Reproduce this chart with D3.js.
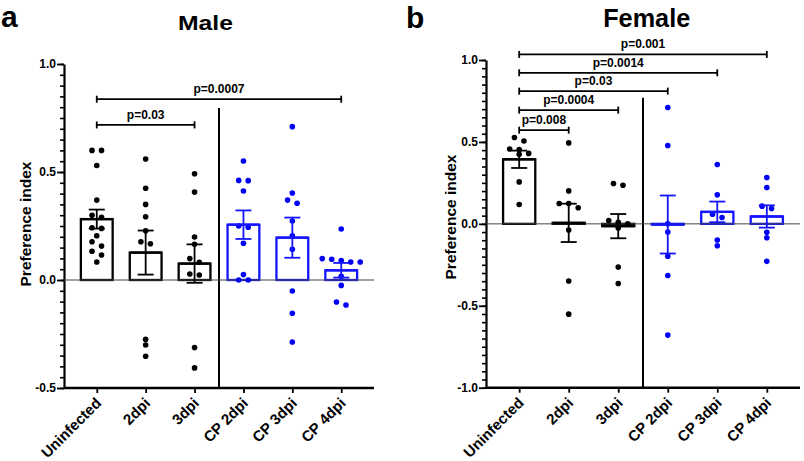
<!DOCTYPE html>
<html><head><meta charset="utf-8">
<script src="https://cdn.jsdelivr.net/npm/d3@7"></script>
<style>body{margin:0;background:#fff;} text{font-family:"Liberation Sans",Arial,sans-serif;font-weight:bold;}</style>
</head><body>
<script>
// ---------------- data ----------------
const categories = ["Uninfected", "2dpi", "3dpi", "CP 2dpi", "CP 3dpi", "CP 4dpi"];
const groupColors = ["black", "black", "black", "blue", "blue", "blue"];

// Male (panel a) individual values
const maleUninfected = [0.60, 0.60, 0.53, 0.37, 0.30, 0.29, 0.242, 0.239, 0.205, 0.177, 0.157, 0.133, 0.116, 0.083];
const male2dpi = [0.56, 0.425, 0.35, 0.293, 0.228, 0.177, 0.168, -0.275, -0.301, -0.353];
const male3dpi = [0.492, 0.407, 0.199, 0.165, 0.099, 0.082, 0.028, 0.023, -0.313, -0.407];
const maleCP2dpi = [0.551, 0.461, 0.46, 0.412, 0.25, 0.244, 0.17, 0.025, 0.0, 0.0];
const maleCP3dpi = [0.71, 0.403, 0.37, 0.355, 0.273, 0.205, 0.142, -0.051, -0.154, -0.287];
const maleCP4dpi = [0.236, 0.099, 0.096, 0.09, 0.083, 0.083, 0.017, -0.025, -0.102, -0.116];
const maleMeans = [0.282, 0.127, 0.076, 0.256, 0.196, 0.045];
const maleSEM = [0.044, 0.102, 0.089, 0.066, 0.093, 0.034];
const maleBrackets = [
  {label: "p=0.0007", from: "Uninfected", to: "CP 4dpi", level: 0.837},
  {label: "p=0.03", from: "Uninfected", to: "3dpi", level: 0.718}
];

// Female (panel b) individual values
const femaleUninfected = [0.527, 0.506, 0.457, 0.454, 0.43, 0.425, 0.256, 0.118];
const female2dpi = [0.494, 0.201, 0.124, 0.124, 0.098, -0.038, -0.349, -0.551];
const female3dpi = [0.246, 0.236, 0.02, 0.01, 0.0, -0.025, -0.264, -0.364];
const femaleCP2dpi = [0.71, 0.478, 0.0, -0.05, -0.197, -0.315, -0.679];
const femaleCP3dpi = [0.362, 0.177, 0.059, 0.039, -0.099, -0.134];
const femaleCP4dpi = [0.283, 0.222, 0.108, 0.094, -0.052, -0.085, -0.229];
const femaleMeans = [0.394, 0.006, -0.014, -0.004, 0.073, 0.045];
const femaleSEM = [0.053, 0.117, 0.074, 0.177, 0.063, 0.068];
const femaleBrackets = [
  {label: "p=0.001", from: "Uninfected", to: "CP 4dpi", level: 1.034},
  {label: "p=0.0014", from: "Uninfected", to: "CP 3dpi", level: 0.922},
  {label: "p=0.03", from: "Uninfected", to: "CP 2dpi", level: 0.81},
  {label: "p=0.0004", from: "Uninfected", to: "3dpi", level: 0.694},
  {label: "p=0.008", from: "Uninfected", to: "2dpi", level: 0.572}
];

const maleYTicks = [-0.5, 0.0, 0.5, 1.0];
const femaleYTicks = [-1.0, -0.5, 0.0, 0.5, 1.0];
const yLabel = "Preference index";

// ---------------- drawing ----------------
const BLUE = "#1414ff";
const svg = d3.select("body").append("svg").attr("width", 804).attr("height", 461);

function colorOf(i) { return groupColors[i] === "blue" ? BLUE : "#000"; }

function swarm(values, y, spacing, thr) {
  const sorted = values.map(v => v).sort((a, b) => b - a);
  const rows = [];
  sorted.forEach(v => {
    const py = y(v);
    const last = rows[rows.length - 1];
    if (last && Math.abs(py - last.y0) < thr) last.pts.push(v);
    else rows.push({y0: py, pts: [v]});
  });
  const out = [];
  rows.forEach(r => {
    const n = r.pts.length;
    r.pts.forEach((v, i) => out.push({v, dx: (i - (n - 1) / 2) * spacing}));
  });
  return out;
}

function drawPanel(cfg) {
  const g = svg.append("g");
  const x = d3.scalePoint().domain(categories).range([cfg.x0, cfg.x1]).padding(0.67);
  const y = d3.scaleLinear().domain(cfg.domain).range([cfg.yBottom, cfg.yTop]);
  const step = x.step();
  const bw = step * 0.65;

  // panel letter and title
  g.append("text").attr("x", cfg.letterX).attr("y", cfg.letterY).attr("font-size", 30).text(cfg.letter);
  g.append("text").attr("x", cfg.titleX).attr("y", cfg.titleY).attr("text-anchor", "middle")
    .attr("font-size", cfg.titleSize).attr("textLength", cfg.titleLen).attr("lengthAdjust", "spacingAndGlyphs").text(cfg.title);

  // y axis minor ticks
  const minor = d3.range(Math.round(cfg.domain[0] * 20), Math.round(cfg.domain[1] * 20) + 1).map(d => d / 20);
  const yMinor = g.append("g").attr("transform", `translate(${cfg.x0},0)`)
    .call(d3.axisLeft(y).tickValues(minor).tickSize(4).tickSizeOuter(0).tickFormat(""));
  yMinor.selectAll("line").attr("stroke-width", 1.6);
  yMinor.select(".domain").attr("stroke-width", 2.2);
  const yMajor = g.append("g").attr("transform", `translate(${cfg.x0},0)`)
    .call(d3.axisLeft(y).tickValues(cfg.yTicks).tickSize(7).tickSizeOuter(0).tickPadding(1).tickFormat(d => d.toFixed(1)));
  yMajor.select(".domain").remove();
  yMajor.selectAll("line").attr("stroke-width", 1.8);
  yMajor.selectAll("text").attr("font-size", 12).attr("font-family", "Liberation Sans, Arial, sans-serif").attr("font-weight", "bold");

  // y label
  g.append("text").attr("transform", `translate(${cfg.yLabelX},${cfg.yLabelY}) rotate(-90)`)
    .attr("text-anchor", "middle").attr("font-size", 15.5).text(yLabel);

  // x axis
  const xAx = g.append("g").attr("transform", `translate(0,${cfg.yBottom})`)
    .call(d3.axisBottom(x).tickSize(5).tickSizeOuter(0));
  xAx.select(".domain").attr("stroke-width", 2.4).attr("d", `M${cfg.x0},0H${cfg.x1}`);
  xAx.selectAll("line").attr("stroke-width", 1.8);
  xAx.selectAll("text").attr("font-size", 15).attr("font-family", "Liberation Sans, Arial, sans-serif")
    .attr("font-weight", "bold").attr("text-anchor", "end").attr("dy", null)
    .attr("transform", "translate(5,16) rotate(-45)").attr("y", 0).attr("x", 0);

  // divider
  const divX = (x("3dpi") + x("CP 2dpi")) / 2;
  g.append("line").attr("x1", divX).attr("x2", divX).attr("y1", y(cfg.dividerTop)).attr("y2", cfg.yBottom)
    .attr("stroke", "#000").attr("stroke-width", 2);

  // bars
  categories.forEach((c, i) => {
    const m = cfg.means[i];
    g.append("rect").attr("x", x(c) - bw / 2).attr("width", bw)
      .attr("y", y(Math.max(0, m))).attr("height", Math.max(Math.abs(y(m) - y(0)), 0.5))
      .attr("fill", "#fff").attr("stroke", colorOf(i)).attr("stroke-width", 2.3);
  });

  // zero line
  g.append("line").attr("x1", cfg.x0).attr("x2", cfg.x1).attr("y1", y(0)).attr("y2", y(0))
    .attr("stroke", "#444").attr("stroke-width", 1);

  // dots
  cfg.values.forEach((vals, i) => {
    const pts = swarm(vals, y, 9.5, 5);
    g.selectAll(null).data(pts).enter().append("circle")
      .attr("cx", d => x(categories[i]) + d.dx).attr("cy", d => y(d.v)).attr("r", 2.8)
      .attr("fill", colorOf(i) === "#000" ? "#000" : "#0000f5");
  });

  // error bars
  categories.forEach((c, i) => {
    const m = cfg.means[i], s = cfg.sem[i], cx = x(c), col = colorOf(i);
    const eg = g.append("g").attr("stroke", col).attr("stroke-width", 1.8);
    eg.append("line").attr("x1", cx).attr("x2", cx).attr("y1", y(m - s)).attr("y2", y(m + s));
    [m - s, m + s].forEach(v => eg.append("line").attr("x1", cx - 8).attr("x2", cx + 8).attr("y1", y(v)).attr("y2", y(v)));
    eg.append("line").attr("x1", cx - bw / 2).attr("x2", cx + bw / 2).attr("y1", y(m)).attr("y2", y(m)).attr("stroke-width", 2.3);
  });

  // significance brackets
  cfg.brackets.forEach(b => {
    const x1 = x(b.from), x2 = x(b.to), yy = y(b.level);
    const bg = g.append("g").attr("stroke", "#000").attr("stroke-width", 1.8);
    bg.append("line").attr("x1", x1).attr("x2", x2).attr("y1", yy).attr("y2", yy);
    bg.append("line").attr("x1", x1).attr("x2", x1).attr("y1", yy - 3.5).attr("y2", yy + 3.5);
    bg.append("line").attr("x1", x2).attr("x2", x2).attr("y1", yy - 3.5).attr("y2", yy + 3.5);
    g.append("text").attr("x", (x1 + x2) / 2).attr("y", yy - 6).attr("text-anchor", "middle")
      .attr("font-size", 12).text(b.label);
  });
}

drawPanel({
  x0: 64, x1: 374, yTop: 64, yBottom: 388, domain: [-0.5, 1.0], yTicks: maleYTicks,
  values: [maleUninfected, male2dpi, male3dpi, maleCP2dpi, maleCP3dpi, maleCP4dpi],
  means: maleMeans, sem: maleSEM, brackets: maleBrackets, dividerTop: 0.796,
  letter: "a", letterX: 1, letterY: 26.5, title: "Male", titleX: 205.5, titleY: 29.5, titleSize: 21, titleLen: 55,
  yLabelX: 31, yLabelY: 224
});
drawPanel({
  x0: 486, x1: 800, yTop: 60, yBottom: 387.7, domain: [-1.0, 1.0], yTicks: femaleYTicks,
  values: [femaleUninfected, female2dpi, female3dpi, femaleCP2dpi, femaleCP3dpi, femaleCP4dpi],
  means: femaleMeans, sem: femaleSEM, brackets: femaleBrackets, dividerTop: 0.769,
  letter: "b", letterX: 406, letterY: 27.5, title: "Female", titleX: 646.7, titleY: 26.5, titleSize: 26, titleLen: 87,
  yLabelX: 456, yLabelY: 217
});
</script>
</body></html>
